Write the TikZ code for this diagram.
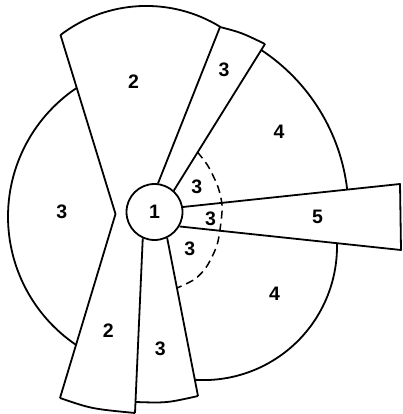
\documentclass[tikz,border=0pt]{standalone}
\usepackage{fontspec}
\setmainfont{Liberation Sans}
\usetikzlibrary{calc}
\begin{document}
\begin{tikzpicture}[x=1pt,y=1pt,line width=1.8pt,line join=round,
  lbl/.style={font=\fontsize{19.5}{19.5}\selectfont\bfseries,inner sep=0pt},
  hub/.style={circle,draw,minimum size=56pt,inner sep=0pt,font=\fontsize{19.5}{19.5}\selectfont\bfseries},
  bound/.style={dashed,dash pattern=on 8pt off 5pt,line width=1.5pt}]
\useasboundingbox (0,0) rectangle (402,-414);
\fill[white] (0,0) rectangle (402,-414);
% hub
\node[hub] (c) at (154.5,-212) {1};
% corner points
\coordinate (tl) at (60.5,-35);
\coordinate (chev) at (115.5,-214);
\coordinate (bl) at (60,-398);
\coordinate (tr) at (220,-27);
\coordinate (sr) at (265,-44);
\coordinate (fivet) at (400,-184);
\coordinate (fiveb) at (401,-250);
\coordinate (b2r) at (135,-413);
\coordinate (b3br) at (198,-396);
\coordinate (b3bl) at ($(c.-114)!0.937!(b2r)$);
% sector 2 (top) and sector 2 (bottom) outer edges
\draw (tl) -- (chev) -- (bl);
\draw (tl) arc[start angle=127.4,end angle=58.3,radius=141.3];
\draw (tr) -- (c.83);
% strip 3 (top)
\draw (tr) .. controls (241.4,-32.6) .. (sr);
\draw (sr) -- (c.48);
% strip 5
\draw (c.10) -- (fivet) -- (fiveb) -- (c.-30);
% bottom 2 and bottom 3
\draw (b2r) -- (c.-114);
\draw (bl) .. controls (91.5,-408.8) .. (b2r);
\draw (b3bl) .. controls (166.7,-403) .. (b3br);
\draw (b3br) -- (c.-64);
% outer arcs
\draw ($(162.9,-216.6)+(123.9:154.9)$) arc[start angle=123.9,end angle=236,radius=154.9];
\draw ($(c.center)+(56.6:194)$) arc[start angle=56.6,end angle=6.6,radius=194];
\draw ($(203.4,-246.5)+(1.4:133.6)$) arc[start angle=1.4,end angle=-93.6,radius=133.6];
% dashed boundary
\draw[bound] plot[smooth] coordinates {(197.4,-152) (208,-166) (218,-187) (222,-205) (221,-222) (217,-245) (207,-266) (195,-279) (177,-288)};
% labels
\node[lbl] (l2t) at (133.5,-81.7) {2};
\node[lbl] (l3s) at (224,-70) {3};
\node[lbl] (l4u) at (279,-131.7) {4};
\node[lbl] (l3l) at (61.7,-211.7) {3};
\node[lbl] (l3a) at (196.7,-187) {3};
\node[lbl] (l3m) at (210.5,-218.7) {3};
\node[lbl] (l5) at (317.5,-216.7) {5};
\node[lbl] (l3b) at (189.7,-248.7) {3};
\node[lbl] (l4l) at (274.5,-294) {4};
\node[lbl] (l2b) at (108.3,-330.5) {2};
\node[lbl] (l3d) at (160.3,-348.3) {3};
\end{tikzpicture}
\end{document}
